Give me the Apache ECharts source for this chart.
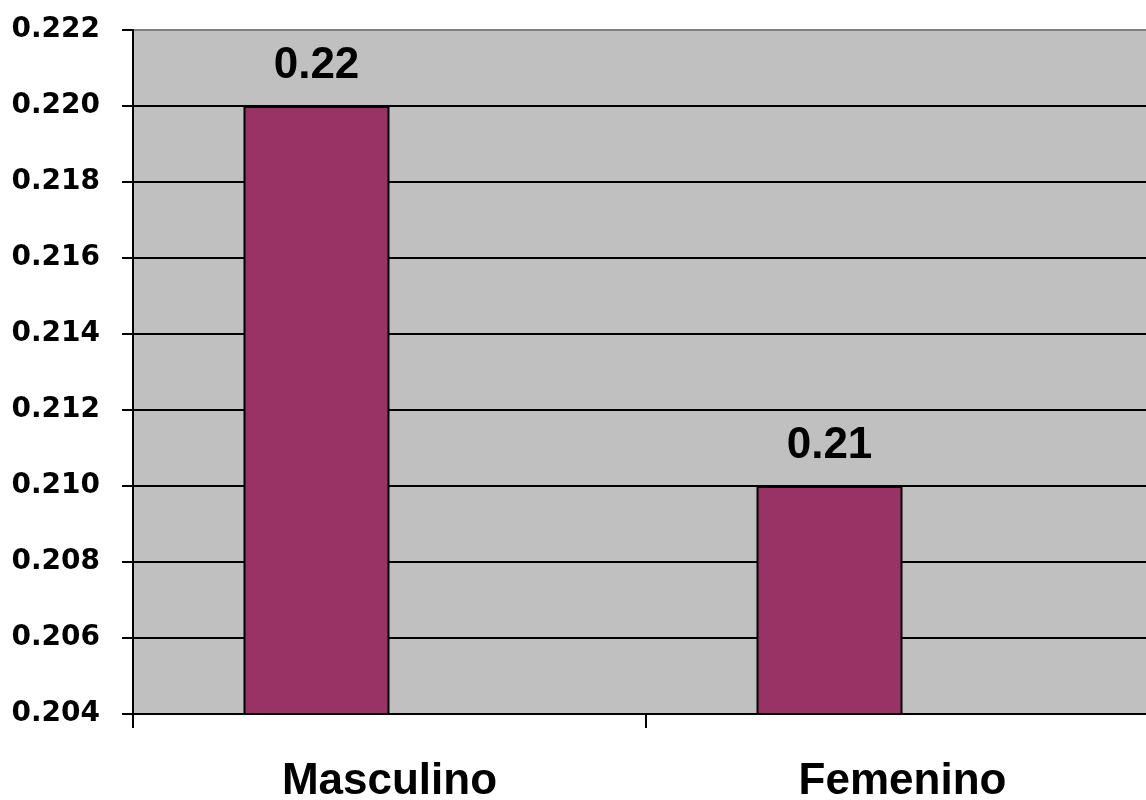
<!DOCTYPE html>
<html>
<head>
<meta charset="utf-8">
<script src="https://cdn.jsdelivr.net/npm/echarts@6/dist/echarts.min.js"></script>
<style>html,body{margin:0;padding:0;background:#fff;overflow:hidden;width:1146px;height:800px;}#c{width:1159px;height:800px;}</style>
</head>
<body>
<div id="c"></div>
<script>
const categories = ['Masculino', 'Femenino'];
const values = [0.22, 0.21];
const emptySeries = [null, null];
const yMin = 0.204, yMax = 0.222, yStep = 0.002;

const nLines = Math.round((yMax - yMin) / yStep) + 1;
const splitColors = [];
for (let i = 0; i < nLines; i++) splitColors.push(i === nLines - 1 ? '#808080' : '#000000');

const chart = echarts.init(document.getElementById('c'), null, {renderer: 'canvas'});
chart.setOption({
  animation: false,
  backgroundColor: '#ffffff',
  grid: {left: 133, top: 30, right: 0, bottom: 86, outerBoundsMode: 'none', containLabel: false,
    show: true, backgroundColor: '#C0C0C0', borderColor: '#808080', borderWidth: 0},
  xAxis: {
    type: 'category', data: categories, boundaryGap: true,
    axisLine: {show: true, lineStyle: {color: '#000', width: 2}},
    axisTick: {show: true, length: 14, lineStyle: {color: '#000', width: 2}, alignWithLabel: false},
    axisLabel: {fontFamily: 'Liberation Sans, Arial, sans-serif', fontWeight: 'bold', fontSize: 44, color: '#000', margin: 46}
  },
  yAxis: {
    type: 'value', min: yMin, max: yMax, interval: yStep,
    axisLine: {show: true, lineStyle: {color: '#000', width: 2}},
    axisTick: {show: true, length: 11, lineStyle: {color: '#000', width: 2}},
    splitLine: {show: true, lineStyle: {color: splitColors, width: 2}},
    axisLabel: {fontFamily: 'DejaVu Sans, sans-serif', fontWeight: 'bold', fontSize: 28, color: '#000', margin: 33,
      padding: [16, 0, 0, 0],
      formatter: v => v.toFixed(3)}
  },
  series: [
    {type: 'bar', data: values, barWidth: 146, barGap: '0%',
     itemStyle: {color: '#993366', borderColor: '#000', borderWidth: 2},
     label: {show: true, position: 'top', distance: 18, fontFamily: 'Liberation Sans, Arial, sans-serif', fontWeight: 'bold', fontSize: 44, color: '#000',
       formatter: p => p.value.toFixed(2)}},
    {type: 'bar', data: emptySeries, barWidth: 146, barGap: '0%', itemStyle: {color: '#333399'}}
  ]
});
</script>
</body>
</html>
